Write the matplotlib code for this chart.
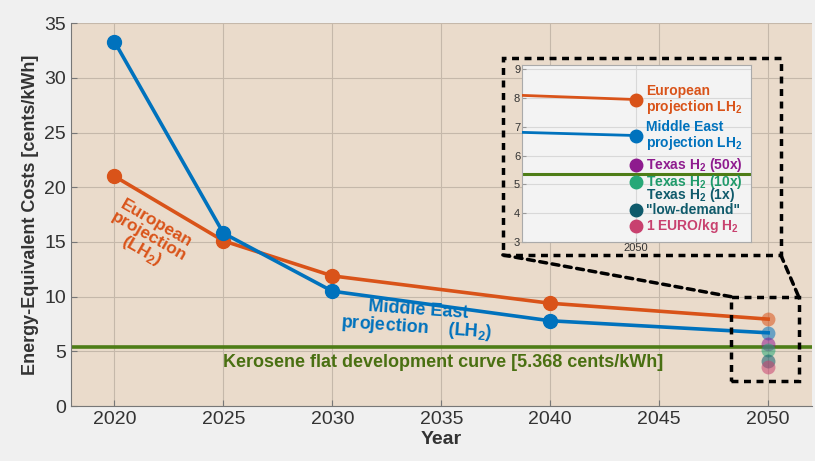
import numpy as np
import matplotlib
matplotlib.use("Agg")
import matplotlib.pyplot as plt
from matplotlib.patches import Rectangle, ConnectionPatch

plt.rcParams['font.family'] = ['Liberation Sans', 'DejaVu Sans']
plt.rcParams['mathtext.fontset'] = 'custom'
plt.rcParams['mathtext.rm'] = 'Liberation Sans'
plt.rcParams['mathtext.bf'] = 'Liberation Sans:bold'

# data
years = [2020, 2025, 2030, 2040, 2050]
europe = [21.0, 15.1, 11.9, 9.4, 7.95]
mideast = [33.3, 15.8, 10.5, 7.8, 6.7]
kerosene = 5.368
texas_labels = ["Texas H$_\\mathbf{2}$ (50x)", "Texas H$_\\mathbf{2}$ (10x)",
                "\"low-demand\"", "1 EURO/kg H$_\\mathbf{2}$"]
texas_vals = [5.68, 5.09, 4.12, 3.57]
texas_colors = ["#8e1b8e", "#27a877", "#0f5a6b", "#c8416f"]
texas_text_colors = ["#8e1b8e", "#1f9a6a", "#0f5a6b", "#c8416f"]

c_eu = "#d95319"
c_me = "#0072bd"
c_ker = "#4e7d17"

fig = plt.figure(figsize=(8.15, 4.61), dpi=100, facecolor="#f0f0f0")
ax = fig.add_axes([0.087, 0.119, 0.909, 0.831])
ax.set_facecolor("#eadbcb")

ax.axhline(kerosene, color=c_ker, lw=2.6, zorder=2)
ax.plot(years, europe, color=c_eu, lw=2.6, marker="o", ms=10, markevery=[0, 1, 2, 3], zorder=3)
ax.plot(years, mideast, color=c_me, lw=2.6, marker="o", ms=10, markevery=[0, 1, 2, 3], zorder=3)
# faded 2050 points
ax.plot(years[-1], europe[-1], "o", color=c_eu, ms=10, alpha=0.55, mec="none", zorder=4)
ax.plot(years[-1], mideast[-1], "o", color=c_me, ms=10, alpha=0.55, mec="none", zorder=4)
for v, c in zip(texas_vals, texas_colors):
    ax.plot(years[-1], v, "o", color=c, ms=10, alpha=0.55, mec="none", zorder=4)

ax.set_xlim(2018, 2052)
ax.set_ylim(0, 35)
ax.set_xticks(range(2020, 2051, 5))
ax.set_yticks(range(0, 36, 5))
ax.grid(True, color="#c5b8aa", lw=0.8)
ax.set_axisbelow(True)
for s in ["top", "right"]:
    ax.spines[s].set_visible(False)
for s in ["left", "bottom"]:
    ax.spines[s].set_color("#777777")
ax.tick_params(labelsize=14, colors="#333333", length=4, color="#777777", direction="in")
ax.set_xlabel("Year", fontsize=14, fontweight="bold", color="#333333", labelpad=2)
ax.set_ylabel("Energy-Equivalent Costs [cents/kWh]", fontsize=13, fontweight="bold",
              color="#333333", labelpad=4)

ax.text(2021.55, 15.35, "European\nprojection\n(LH$_\\mathbf{2}$)", color=c_eu, fontsize=12.5,
        fontweight="bold", rotation=-30, ha="center", va="center", linespacing=0.95,
        rotation_mode="anchor")
ax.text(2033.9, 7.85, "Middle East\nprojection    (LH$_\\mathbf{2}$)", color=c_me, fontsize=13,
        fontweight="bold", rotation=-4, ha="center", va="center", linespacing=0.9,
        rotation_mode="anchor")
ax.text(2035.1, 4.0, "Kerosene flat development curve [5.368 cents/kWh]", color="#4a7012",
        fontsize=13, fontweight="bold", ha="center", va="center")

# zoom box on main axes
ax.add_patch(Rectangle((2048.3, 2.3), 3.1, 7.7, fill=False, ec="black", lw=2.5,
                       ls=(0, (2, 1.6)), zorder=5, clip_on=False))

# inset
ins = fig.add_axes([0.640, 0.475, 0.281, 0.384])
ins.set_facecolor("#f3f3f3")
ins.axhline(kerosene, color=c_ker, lw=2.2, zorder=2)
ins.plot(years, europe, color=c_eu, lw=2, marker="o", ms=9, markevery=[4], zorder=3)
ins.plot(years, mideast, color=c_me, lw=2, marker="o", ms=9, markevery=[4], zorder=3)
for v, c in zip(texas_vals, texas_colors):
    ins.plot(years[-1], v, "o", color=c, ms=9, zorder=4)
ins.set_xlim(2049, 2051)
ins.set_ylim(3, 9.15)
ins.set_xticks([2050])
ins.set_yticks(range(3, 10))
ins.grid(True, color="#d8d8d8", lw=0.8)
ins.set_axisbelow(True)
for s in ins.spines.values():
    s.set_color("#aaaaaa")
ins.tick_params(labelsize=8, colors="#333333", length=3, color="#999999", direction="in", pad=1)

tx = 2050.09
fs_in = 10
ins.text(tx, europe[-1], "European\nprojection LH$_\\mathbf{2}$", color=c_eu, fontsize=fs_in,
         fontweight="bold", va="center", ha="left", linespacing=1.0)
ins.text(tx, mideast[-1], "Middle East\nprojection LH$_\\mathbf{2}$", color=c_me, fontsize=fs_in,
         fontweight="bold", va="center", ha="left", linespacing=1.0)
for v, lab, c in zip(texas_vals, texas_labels, texas_text_colors):
    ins.text(tx, v, lab, color=c, fontsize=fs_in, fontweight="bold", va="center", ha="left")
ins.text(tx, texas_vals[2] + 0.5, "Texas H$_\\mathbf{2}$ (1x)", color=texas_text_colors[2],
         fontsize=fs_in, fontweight="bold", va="center", ha="left")

# dashed frame around inset + connectors
fig.patches.append(Rectangle((0.617, 0.447), 0.341, 0.427, transform=fig.transFigure,
                             fill=False, ec="black", lw=2.5, ls=(0, (2, 1.6)), zorder=10))
for xf, xd in [(0.617, 2048.3), (0.958, 2051.4)]:
    cp = ConnectionPatch(xyA=(xf, 0.447), coordsA=fig.transFigure, xyB=(xd, 10.0),
                         coordsB=ax.transData, color="black", lw=2.5, ls=(0, (2, 1.6)))
    fig.add_artist(cp)

fig.savefig("out.png", dpi=100, facecolor=fig.get_facecolor())
